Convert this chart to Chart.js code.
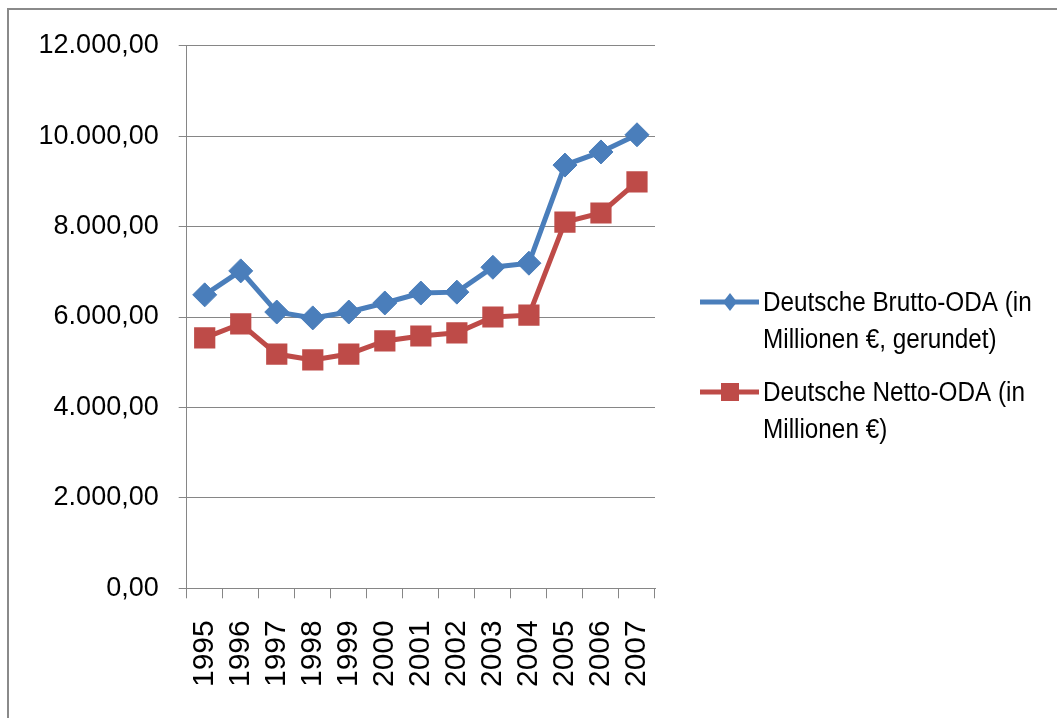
<!DOCTYPE html>
<html><head><meta charset="utf-8">
<script src="https://cdn.jsdelivr.net/npm/chart.js@4.4.0/dist/chart.umd.min.js"></script>
<style>html,body{margin:0;padding:0;background:#fff;overflow:hidden}#wrap{position:relative;width:1057px;height:718px}</style>
</head><body><div id="wrap"><canvas id="c" width="1057" height="718"></canvas></div>
<script>
const years = ['1995','1996','1997','1998','1999','2000','2001','2002','2003','2004','2005','2006','2007'];
const brutto = [6490, 7020, 6110, 5980, 6110, 6310, 6530, 6550, 7100, 7190, 9360, 9650, 10030];
const netto = [5540, 5850, 5180, 5050, 5180, 5470, 5580, 5650, 6000, 6040, 8100, 8300, 8990];
const bruttoLabel = ['Deutsche Brutto-ODA (in', 'Millionen €, gerundet)'];
const nettoLabel = ['Deutsche Netto-ODA (in', 'Millionen €)'];
const yMin = 0, yMax = 12000, yStep = 2000;

const BLUE = '#4A7EBB', RED = '#BE4B48', GRID = '#868686';

function fmtDE(v) {
  const fixed = Math.abs(v).toFixed(2);
  let [intPart, dec] = fixed.split('.');
  intPart = intPart.replace(/\B(?=(\d{3})+(?!\d))/g, '.');
  return (v < 0 ? '-' : '') + intPart + ',' + dec;
}

const framePlugin = {
  id: 'frame',
  beforeDraw(chart) {
    const ctx = chart.ctx;
    ctx.save();
    ctx.fillStyle = '#fff';
    ctx.fillRect(0, 0, chart.width, chart.height);
    ctx.strokeStyle = '#8a8a8a';
    ctx.lineWidth = 2;
    ctx.beginPath();
    ctx.moveTo(8, chart.height);
    ctx.lineTo(8, 9);
    ctx.lineTo(chart.width, 9);
    ctx.stroke();
    ctx.restore();
  }
};

const legendPlugin = {
  id: 'customLegend',
  afterDraw(chart) {
    const ctx = chart.ctx;
    const entries = chart.data.datasets.map(ds => ({
      lines: ds.legendLines, color: ds.borderColor, style: ds.pointStyle
    }));
    const startY = [311, 401];
    ctx.save();
    entries.forEach((e, i) => {
      const base = startY[i];
      const my = base - 9;
      ctx.strokeStyle = e.color;
      ctx.lineWidth = 5;
      ctx.beginPath();
      ctx.moveTo(700, my);
      ctx.lineTo(759, my);
      ctx.stroke();
      ctx.fillStyle = e.color;
      ctx.beginPath();
      if (e.style === 'rectRot') {
        ctx.moveTo(730, my - 9);
        ctx.lineTo(737, my);
        ctx.lineTo(730, my + 9);
        ctx.lineTo(723, my);
        ctx.closePath();
      } else {
        ctx.rect(721, my - 9, 18, 18);
      }
      ctx.fill();
      ctx.fillStyle = '#000';
      ctx.font = '27px "Liberation Sans", Arial, sans-serif';
      ctx.textBaseline = 'alphabetic';
      ctx.textAlign = 'left';
      e.lines.forEach((t, k) => {
        ctx.save();
        ctx.translate(763, base + k * 37);
        ctx.scale(0.9, 1);
        ctx.fillText(t, 0, 0);
        ctx.restore();
      });
    });
    ctx.restore();
  }
};

new Chart(document.getElementById('c'), {
  type: 'line',
  data: {
    labels: years,
    datasets: [
      {
        label: bruttoLabel.join(' '), legendLines: bruttoLabel, data: brutto,
        borderColor: BLUE, backgroundColor: BLUE, borderWidth: 5,
        pointStyle: 'rectRot', pointRadius: 12, pointBorderWidth: 1,
        pointBackgroundColor: BLUE, pointBorderColor: BLUE, tension: 0
      },
      {
        label: nettoLabel.join(' '), legendLines: nettoLabel, data: netto,
        borderColor: RED, backgroundColor: RED, borderWidth: 5,
        pointStyle: 'rect', pointRadius: 15, pointBorderWidth: 0,
        pointBackgroundColor: RED, pointBorderColor: RED, tension: 0
      }
    ]
  },
  options: {
    responsive: false, animation: false, devicePixelRatio: 1,
    layout: { padding: { top: 45.7, right: 402, bottom: 0, left: 0 } },
    plugins: { legend: { display: false }, tooltip: { enabled: false } },
    scales: {
      x: {
        offset: true,
        grid: { offset: true, drawOnChartArea: false, color: GRID, tickLength: 10 },
        border: { color: GRID },
        ticks: {
          minRotation: 90, maxRotation: 90, autoSkip: false, padding: 22,
          color: '#000', font: { family: '"Liberation Sans", Arial, sans-serif', size: 30 }
        },
        afterFit(s) { s.height = 129.7; }
      },
      y: {
        min: yMin, max: yMax,
        grid: { color: GRID, tickLength: 8 },
        border: { color: GRID },
        ticks: {
          stepSize: yStep, padding: 20, color: '#000',
          font: { family: '"Liberation Sans", Arial, sans-serif', size: 27 },
          callback: v => fmtDE(v)
        },
        afterFit(s) { s.width = 186.7; }
      }
    }
  },
  plugins: [framePlugin, legendPlugin]
});
</script></body></html>
